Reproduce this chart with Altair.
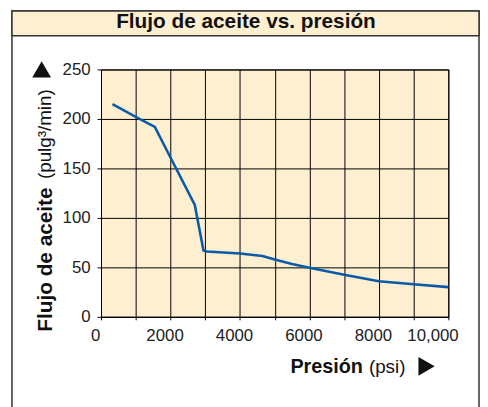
import altair as alt
import pandas as pd

# ---- data ----
pressure = [330, 1000, 1550, 2000, 2700, 2950, 3050, 4000, 4650, 5000, 5500, 6000, 7000, 8000, 9000, 10000]
flow = [215, 202, 192, 161, 113, 67, 66, 64, 61.5, 58, 53.5, 49.5, 42.5, 36, 33, 30]
x_ticks = [0, 1000, 2000, 3000, 4000, 5000, 6000, 7000, 8000, 9000, 10000]
y_ticks = [0, 50, 100, 150, 200, 250]

title_text = "Flujo de aceite vs. presión"
y_title_bold = "Flujo de aceite"
y_title_reg = "(pulg³/min)"
x_title_bold = "Presión"
x_title_reg = "(psi)"

W, H = 351, 250
FONT = "Liberation Sans"
CREAM = "#fdefd0"
FRAME = "#333333"

df = pd.DataFrame({"p": pressure, "f": flow})
one = pd.DataFrame({"k": [0]})

xs = alt.Scale(domain=[0, 10000], nice=False, zero=False)
ys = alt.Scale(domain=[0, 250], nice=False)

line = alt.Chart(df).mark_line(color="#0a5aa8", strokeWidth=2.6).encode(
    x=alt.X(
        "p:Q",
        scale=xs,
        axis=alt.Axis(
            values=x_ticks,
            title=None,
            grid=True,
            tickSize=3,
            labelPadding=8,
            labelExpr="datum.value % 2000 == 0 ? (datum.value >= 10000 ? format(datum.value, ',') : format(datum.value, 'd')) : ''",
            labelOffset={"condition": {"test": "datum.value >= 10000", "value": -16}, "value": -6},
            labelFlush=False,
            labelOverlap=False,
        ),
    ),
    y=alt.Y(
        "f:Q",
        scale=ys,
        axis=alt.Axis(
            values=y_ticks,
            title=None,
            grid=True,
            tickSize=4,
            labelPadding=7,
            labelFlush=False,
            labelOverlap=False,
        ),
    ),
)

frame = alt.Chart(one).mark_rect(fillOpacity=0, stroke=FRAME, strokeWidth=1.5).encode(
    x=alt.value(-90), x2=alt.value(382), y=alt.value(-59), y2=alt.value(420)
)
title_bar = alt.Chart(one).mark_rect(fill=CREAM, stroke=FRAME, strokeWidth=1.5).encode(
    x=alt.value(-90), x2=alt.value(382), y=alt.value(-59), y2=alt.value(-34)
)
title = alt.Chart(one).mark_text(
    text=title_text, font=FONT, fontSize=21, fontWeight="bold", color="#111",
    align="center", baseline="alphabetic"
).encode(x=alt.value(146.5), y=alt.value(-41.5))

ytb = alt.Chart(one).mark_text(
    text=y_title_bold, font=FONT, fontSize=21, fontWeight="bold", color="#111",
    align="left", baseline="alphabetic", angle=270
).encode(x=alt.value(-50), y=alt.value(265))
ytr = alt.Chart(one).mark_text(
    text=y_title_reg, font=FONT, fontSize=19, color="#111",
    align="right", baseline="alphabetic", angle=270
).encode(x=alt.value(-51), y=alt.value(20))

xtb = alt.Chart(one).mark_text(
    text=x_title_bold, font=FONT, fontSize=20, fontWeight="bold", color="#111",
    align="right", baseline="alphabetic"
).encode(x=alt.value(264.7), y=alt.value(307))
xtr = alt.Chart(one).mark_text(
    text=x_title_reg, font=FONT, fontSize=19, color="#111",
    align="left", baseline="alphabetic"
).encode(x=alt.value(270.7), y=alt.value(307))

tri_up = alt.Chart(one).mark_point(shape="triangle-up", filled=True, color="#111", size=360, opacity=1).encode(
    x=alt.value(-60), y=alt.value(0)
)
tri_right = alt.Chart(one).mark_point(shape="triangle-right", filled=True, color="#111", size=360, opacity=1).encode(
    x=alt.value(329), y=alt.value(300)
)

chart = alt.layer(
    frame, title_bar, line, title, ytb, ytr, xtb, xtr, tri_up, tri_right
).properties(
    width=W,
    height=H,
    autosize=alt.AutoSizeParams(type="none"),
    padding={"left": 94, "top": 60, "right": 32, "bottom": 89},
).configure_view(
    fill=CREAM, stroke="#000", strokeWidth=1
).configure_axis(
    labelFont=FONT,
    labelFontSize=17,
    labelColor="#222",
    gridColor="#000",
    gridWidth=1,
    gridOpacity=1,
    domainColor="#000",
    domainWidth=1,
    tickColor="#000",
    tickWidth=1,
)

chart.save("out.html", embed_options={"renderer": "svg", "actions": False})
